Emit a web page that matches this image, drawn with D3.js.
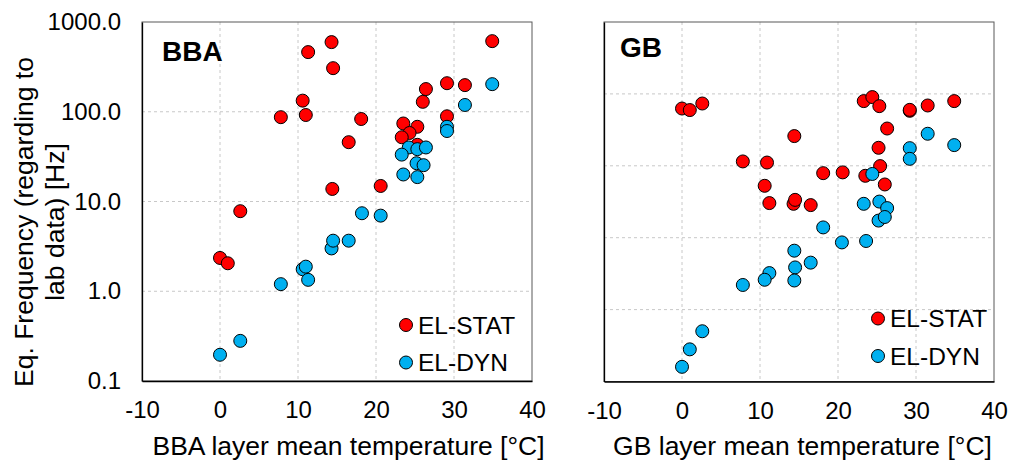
<!DOCTYPE html>
<html>
<head>
<meta charset="utf-8">
<script src="https://cdn.jsdelivr.net/npm/d3@7"></script>
<style>
html,body{margin:0;padding:0;background:#fff;}
svg{display:block;font-family:Arial,"Liberation Sans",sans-serif;}
</style>
</head>
<body>
<svg id="chart" width="1009" height="464"></svg>
<script>
// ---- Data ----
const xTicks = [-10, 0, 10, 20, 30, 40];
const yTicksLeft = [0.1, 1, 10, 100, 1000];
const yTicksRight = [0.1, 1, 10, 100, 1000, 10000];
const seriesNames = ["EL-STAT", "EL-DYN"];
const seriesColors = ["#FF0000", "#00B0F0"];

// BBA panel
const bbaStatT = [11.3, 14.3, 14.5, 10.6, 11.0, 7.8, 14.4, 2.6, 0.0, 1.0, 34.9, 29.1, 31.4, 26.4, 26.0, 18.1, 16.5, 29.1, 23.5, 25.3, 24.3, 23.3, 25.3, 20.6];
const bbaStatF = [462, 597, 306, 133, 92, 87, 13.8, 7.8, 2.35, 2.05, 612, 208, 198, 179, 129, 83, 45.8, 89, 74, 68, 58, 52, 42.8, 14.9];
const bbaDynT = [0.0, 2.6, 7.8, 10.6, 11.0, 11.3, 14.3, 14.5, 16.5, 18.2, 20.6, 34.9, 31.4, 29.1, 29.1, 24.2, 25.3, 26.4, 23.3, 25.2, 26.1, 23.5, 25.3];
const bbaDynF = [0.196, 0.28, 1.2, 1.76, 1.88, 1.34, 3.0, 3.66, 3.66, 7.4, 6.96, 203, 119, 68, 61, 40, 38.3, 40, 33.3, 26.7, 25.4, 20, 18.7];

// GB panel
const gbStatT = [0.0, 1.0, 2.6, 14.4, 7.8, 10.9, 10.6, 11.2, 14.3, 14.5, 34.9, 31.5, 29.2, 29.2, 23.3, 24.4, 25.3, 26.3, 25.2, 25.4, 23.5, 26.0, 18.1, 20.6, 16.5];
const gbStatF = [626, 596, 735, 259, 115, 111, 52.7, 30.3, 29.6, 33.6, 794, 690, 582, 600, 794, 903, 676, 330, 178, 99, 72.6, 55, 79, 81, 28.4];
const gbDynT = [34.9, 31.5, 29.2, 29.2, 24.4, 23.3, 25.3, 26.3, 25.2, 26.0, 18.1, 20.5, 23.6, 14.4, 16.5, 14.5, 14.4, 11.2, 10.6, 7.8, 2.6, 1.0, 0.0];
const gbDynF = [194, 279, 176, 125, 77, 29.6, 31.8, 25.8, 17.3, 19.4, 13.9, 8.6, 9.0, 6.6, 4.5, 3.86, 2.54, 3.22, 2.6, 2.2, 0.50, 0.28, 0.16];

// ---- Drawing ----
const svg = d3.select("#chart");
const FONT = "Arial, 'Liberation Sans', sans-serif";

function panel(opt) {
  const {left, right, top, bottom, yDomain, yTicks, showYLabels, label, labelPos, xTitle, xTitleShift, stat, dyn, legendPos} = opt;
  const x = d3.scaleLinear().domain([-10, 40]).range([left, right]);
  const y = d3.scaleLog().domain(yDomain).range([bottom, top]);
  const g = svg.append("g");

  // gridlines
  g.append("g").selectAll("line").data(xTicks.slice(1, -1)).join("line")
    .attr("x1", d => x(d)).attr("x2", d => x(d)).attr("y1", top).attr("y2", bottom)
    .attr("stroke", "#c8c8c8").attr("stroke-width", 1).attr("stroke-dasharray", "3,3");
  g.append("g").selectAll("line").data(yTicks.slice(1, -1)).join("line")
    .attr("x1", left).attr("x2", right).attr("y1", d => y(d)).attr("y2", d => y(d))
    .attr("stroke", "#c8c8c8").attr("stroke-width", 1).attr("stroke-dasharray", "3,3");

  // plot area border
  g.append("rect").attr("x", left).attr("y", top).attr("width", right - left).attr("height", bottom - top)
    .attr("fill", "none").attr("stroke", "#595959").attr("stroke-width", 1);

  // axes
  const xAxis = d3.axisBottom(x).tickValues(xTicks).tickSize(0).tickPadding(20)
    .tickFormat(d => String(d));
  const gx = g.append("g").attr("transform", `translate(0,${bottom})`).call(xAxis);
  gx.select(".domain").attr("stroke", "#000").attr("stroke-width", 1.3);
  gx.selectAll("text").attr("font-size", 24).attr("fill", "#000").attr("font-family", FONT);

  const yAxis = d3.axisLeft(y).tickValues(yTicks).tickSize(0).tickPadding(21)
    .tickFormat(showYLabels ? d3.format(".1f") : () => "");
  const gy = g.append("g").attr("transform", `translate(${left},0)`).call(yAxis);
  gy.select(".domain").attr("stroke", "#000").attr("stroke-width", 1.3);
  gy.selectAll("text").attr("font-size", 24).attr("fill", "#000").attr("font-family", FONT);

  // x title
  g.append("text").attr("x", (left + right) / 2 + xTitleShift).attr("y", 455)
    .attr("text-anchor", "middle").attr("font-size", 26.5).attr("fill", "#000").text(xTitle);

  // panel label
  g.append("text").attr("x", labelPos[0]).attr("y", labelPos[1])
    .attr("font-size", 28).attr("font-weight", "bold").attr("fill", "#000").text(label);

  // points
  [stat, dyn].forEach((s, i) => {
    const pts = s.T.map((t, k) => [t, s.F[k]]);
    g.append("g").selectAll("circle").data(pts).join("circle")
      .attr("cx", d => x(d[0])).attr("cy", d => y(d[1])).attr("r", 6.5)
      .attr("fill", seriesColors[i]).attr("stroke", "#000").attr("stroke-width", 1);
  });

  // legend
  seriesNames.forEach((n, i) => {
    const ly = legendPos[1] + i * 37.5;
    g.append("circle").attr("cx", legendPos[0]).attr("cy", ly).attr("r", 6.5)
      .attr("fill", seriesColors[i]).attr("stroke", "#000").attr("stroke-width", 1);
    g.append("text").attr("x", legendPos[0] + 12).attr("y", ly).attr("dy", "0.35em")
      .attr("font-size", 24.5).attr("fill", "#000").text(n);
  });
}

panel({
  left: 142, right: 532, top: 22, bottom: 381,
  yDomain: [0.1, 1000], yTicks: yTicksLeft, showYLabels: true,
  label: "BBA", labelPos: [162, 61],
  xTitle: "BBA layer mean temperature [°C]", xTitleShift: 11.5,
  stat: {T: bbaStatT, F: bbaStatF}, dyn: {T: bbaDynT, F: bbaDynF},
  legendPos: [406, 325]
});

panel({
  left: 604, right: 994, top: 22, bottom: 381.5,
  yDomain: [0.1, 10000], yTicks: yTicksRight, showYLabels: false,
  label: "GB", labelPos: [620, 57],
  xTitle: "GB layer mean temperature [°C]", xTitleShift: 3.5,
  stat: {T: gbStatT, F: gbStatF}, dyn: {T: gbDynT, F: gbDynF},
  legendPos: [878, 318.5]
});

// y title (two lines)
const yt = svg.append("text").attr("transform", "translate(0,222) rotate(-90)")
  .attr("text-anchor", "middle").attr("font-size", 26.5).attr("fill", "#000");
yt.append("tspan").attr("x", 0).attr("y", 33).text("Eq. Frequency (regarding to");
yt.append("tspan").attr("x", 0).attr("y", 64).text("lab data) [Hz]");
</script>
</body>
</html>
